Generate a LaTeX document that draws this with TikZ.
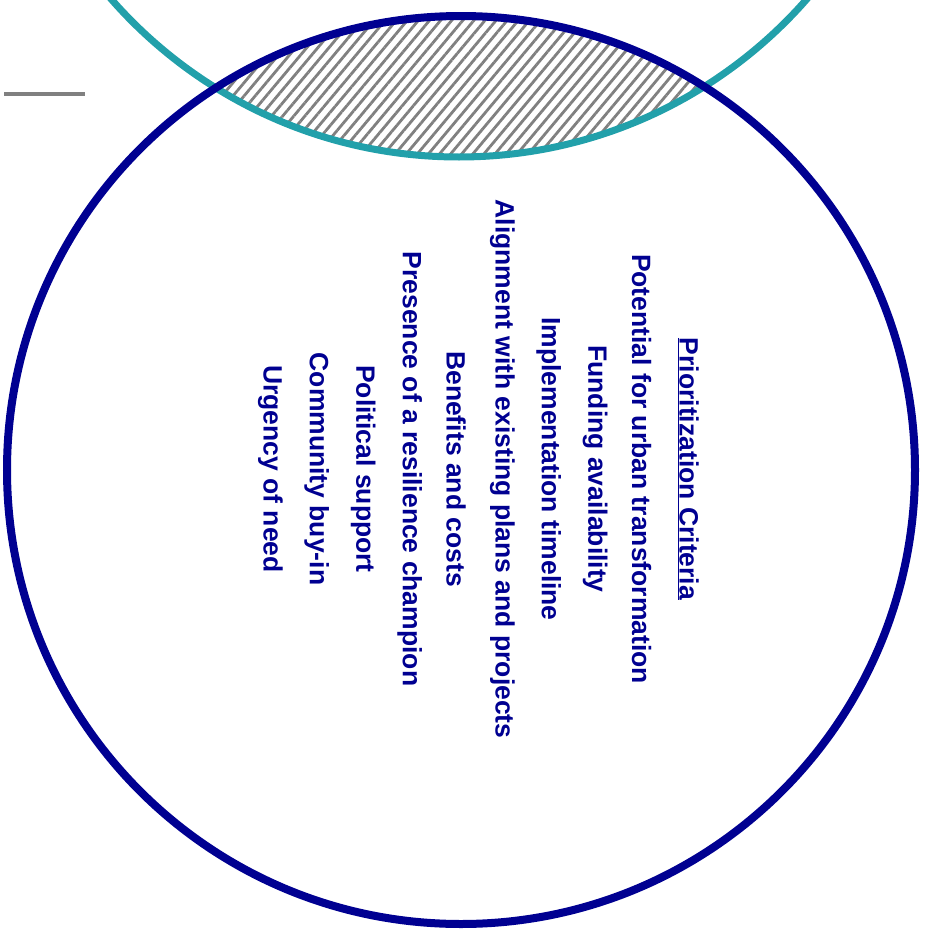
\documentclass[tikz,border=0pt]{standalone}
\usepackage{fontspec}
\setmainfont{Liberation Sans}
\usepackage{xcolor}
\usetikzlibrary{patterns.meta}
\definecolor{critblue}{RGB}{0,0,145}
\definecolor{lensteal}{RGB}{34,160,170}

\begin{document}
\begin{tikzpicture}[x=1pt,y=-1pt]
    \useasboundingbox (0,0) rectangle (925,929);
    \clip (0,0) rectangle (925,929);

    % Hatched overlap of the two circles
    \begin{scope}
        \clip (461,470) circle (454);
        \fill[pattern={Lines[angle=50,distance=8.5pt,line width=2.8pt]}, pattern color=gray] (459,-305) circle (462);
    \end{scope}

    % Circles
    \draw[lensteal, line width=7pt] (459,-305) circle (462);
    \draw[critblue, line width=8pt] (461,470) circle (454);

    % Short grey stub
    \coordinate (stubL) at (4,94);
    \coordinate (stubR) at (85,94);
    \draw[gray, line width=3.5pt] (stubL) -- (stubR);

    % Criteria list
    \foreach \i/\txt in {0/{\underline{Prioritization Criteria}},
                         1/Potential for urban transformation,
                         2/Funding availability,
                         3/Implementation timeline,
                         4/Alignment with existing plans and projects,
                         5/Benefits and costs,
                         6/Presence of a resilience champion,
                         7/Political support,
                         8/Community buy-in,
                         9/Urgency of need} {
        \node[rotate=-90, text=critblue, font=\bfseries\fontsize{26.5}{30}\selectfont] (crit\i) at ({688-46.4*\i}, 469) {\txt};
    }
\end{tikzpicture}
\end{document}
